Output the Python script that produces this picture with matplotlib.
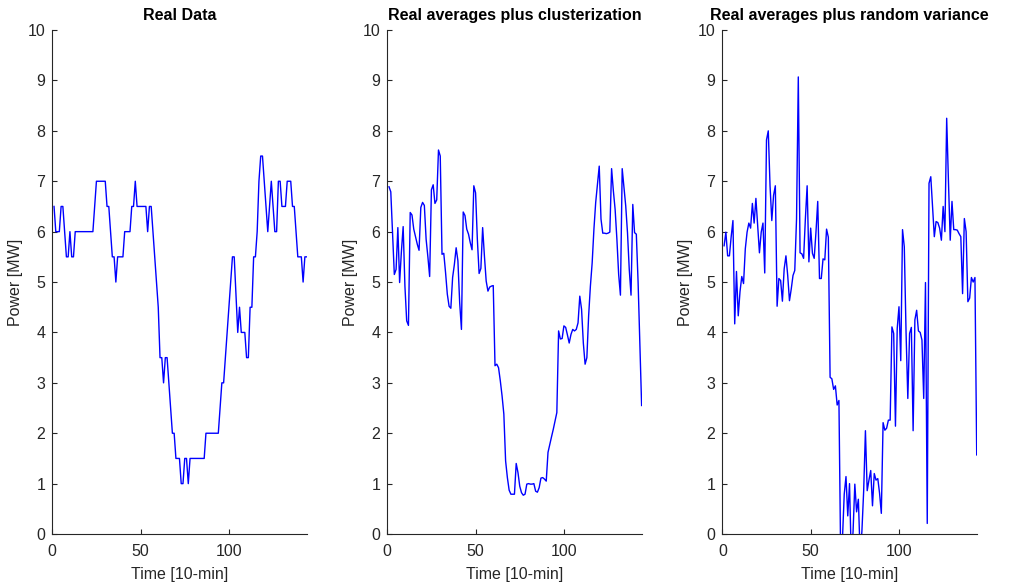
import numpy as np
import matplotlib
matplotlib.use("Agg")
import matplotlib.pyplot as plt

plt.rcParams['font.family'] = ['Liberation Sans', 'DejaVu Sans']

# time axis: 144 ten-minute samples
time_idx = np.arange(1, 145)

real_data = (
    [6.5, 6.0, 6.0, 6.0, 6.5, 6.5, 6.0, 5.5, 5.5, 6.0, 5.5, 5.5]
    + [6.0] * 11 + [6.5] + [7.0] * 6
    + [6.5, 6.5, 6.0, 5.5, 5.5, 5.0] + [5.5] * 4 + [6.0] * 4
    + [6.5, 6.5, 7.0] + [6.5] * 6
    + [6.0, 6.5, 6.5, 6.0, 5.5, 5.0, 4.5, 3.5, 3.5, 3.0, 3.5, 3.5, 3.0, 2.5,
       2.0, 2.0, 1.5, 1.5, 1.5, 1.0, 1.0, 1.5, 1.5, 1.0]
    + [1.5] * 9 + [2.0] * 8
    + [2.5, 3.0, 3.0, 3.5, 4.0, 4.5, 5.0, 5.5, 5.5, 4.75, 4.0, 4.5, 4.0, 4.0,
       4.0, 3.5, 3.5, 4.5, 4.5, 5.5, 5.5, 6.0, 7.0, 7.5, 7.5, 7.0, 6.5, 6.0,
       6.5, 7.0, 6.5, 6.0, 6.0, 7.0, 7.0, 6.5, 6.5, 6.5, 7.0, 7.0, 7.0, 6.5,
       6.5, 6.0, 5.5, 5.5, 5.5, 5.0, 5.5, 5.5]
)

cluster_data = [
    6.89, 6.79, 5.95, 5.15, 5.25, 6.08, 4.99, 5.60, 6.10, 4.92,
    4.23, 4.14, 6.38, 6.33, 6.05, 5.90, 5.75, 5.63, 6.48, 6.58,
    6.52, 5.85, 5.50, 5.11, 6.83, 6.93, 6.56, 6.63, 7.62, 7.50,
    5.55, 5.57, 5.19, 4.76, 4.52, 4.48, 5.09, 5.35, 5.68, 5.42,
    4.59, 4.06, 6.39, 6.32, 6.05, 5.95, 5.78, 5.64, 6.91, 6.77,
    5.85, 5.17, 5.27, 6.08, 5.52, 5.02, 4.82, 4.90, 4.92, 4.93,
    3.34, 3.37, 3.30, 3.04, 2.74, 2.38, 1.45, 1.12, 0.87, 0.79,
    0.79, 0.79, 1.40, 1.22, 0.95, 0.82, 0.77, 0.79, 0.99, 1.00,
    0.99, 0.99, 1.00, 0.85, 0.83, 0.92, 1.11, 1.12, 1.09, 1.05,
    1.62, 1.78, 1.93, 2.08, 2.25, 2.41, 4.03, 3.87, 3.88, 4.13,
    4.10, 3.95, 3.79, 3.96, 4.06, 4.03, 4.06, 4.19, 4.72, 4.46,
    3.79, 3.37, 3.50, 4.33, 4.92, 5.38, 6.05, 6.58, 6.94, 7.30,
    6.25, 5.97, 5.97, 5.96, 5.97, 5.99, 7.25, 6.81, 6.44, 5.85,
    5.15, 4.74, 7.25, 6.87, 6.51, 5.98, 5.25, 4.74, 6.54, 5.98,
    5.95, 5.00, 3.80, 2.55,
]

variance_data = [
    5.72, 5.99, 5.52, 5.52, 5.90, 6.22, 4.17, 5.21, 4.33, 4.81,
    5.11, 4.97, 5.66, 5.99, 6.17, 6.07, 6.56, 6.17, 6.66, 6.12,
    5.58, 5.99, 6.17, 5.18, 7.82, 8.00, 6.91, 6.22, 6.72, 6.91,
    4.52, 5.07, 5.03, 4.62, 5.26, 5.52, 5.13, 4.63, 4.86, 5.13,
    5.23, 6.25, 9.07, 5.58, 5.56, 5.47, 6.25, 6.91, 5.40, 6.07,
    5.57, 5.47, 5.99, 6.60, 5.07, 5.07, 5.46, 5.44, 6.05, 5.89,
    3.11, 3.08, 2.87, 2.94, 2.56, 2.65, -0.50, -0.10, 0.79, 1.14,
    0.36, 1.00, -0.50, 0.05, 0.99, 0.44, 0.69, -0.40, 0.05, 0.85,
    2.05, 0.86, 1.07, 1.26, 0.56, 1.20, 1.07, 1.10, 0.81, 0.41,
    2.21, 2.06, 2.10, 2.26, 2.26, 4.11, 3.98, 2.14, 4.08, 4.51,
    3.44, 6.04, 5.70, 4.00, 2.69, 3.98, 4.10, 2.05, 4.25, 4.44,
    4.03, 4.00, 3.85, 2.69, 4.99, 0.21, 6.96, 7.09, 6.50, 5.90,
    6.20, 6.18, 6.07, 5.83, 6.50, 6.00, 8.25, 7.00, 5.83, 6.60,
    6.04, 6.04, 6.03, 5.96, 5.90, 4.77, 6.26, 6.00, 4.61, 4.68,
    5.09, 5.00, 5.09, 1.57,
]

titles = ['Real Data', 'Real averages plus clusterization',
          'Real averages plus random variance']
series = [real_data, cluster_data, variance_data]

fig = plt.figure(figsize=(10.09, 5.86), dpi=100)
lefts = [0.0518, 0.3838, 0.7159]
axis_col = '#262626'

for left, title, vals in zip(lefts, titles, series):
    ax = fig.add_axes([left, 0.0887, 0.2521, 0.860])
    ax.plot(time_idx, vals, color='#0000ff', lw=1.0)
    ax.set_xlim(0, 144)
    ax.set_ylim(0, 10)
    ax.set_xticks([0, 50, 100])
    ax.set_yticks(range(0, 11))
    ax.spines['top'].set_visible(False)
    ax.spines['right'].set_visible(False)
    for s in ('left', 'bottom'):
        ax.spines[s].set_color(axis_col)
        ax.spines[s].set_linewidth(0.8)
    ax.tick_params(direction='in', length=3.5, width=0.8, colors=axis_col,
                   labelsize=11.5)
    ax.tick_params(axis='x', pad=7)
    ax.tick_params(axis='y', pad=5)
    ax.set_title(title, fontsize=11.5, fontweight='bold', color='black', pad=7)
    ax.set_xlabel('Time [10-min]', fontsize=11.5, color=axis_col, labelpad=6)
    ax.set_ylabel('Power [MW]', fontsize=11.5, color=axis_col, labelpad=3)

fig.savefig('out.png', dpi=100)
